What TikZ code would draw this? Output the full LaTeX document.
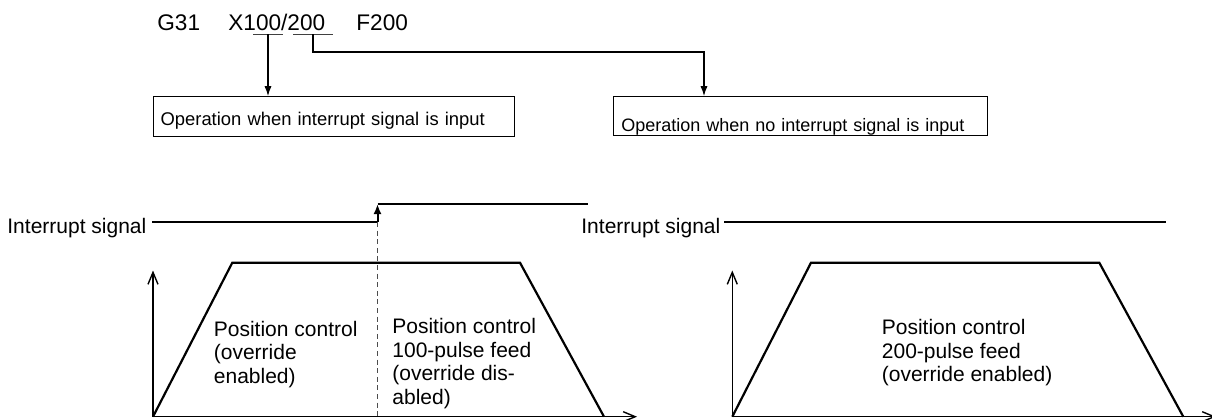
\documentclass[tikz,border=0pt]{standalone}
\usepackage{fontspec}
\setmainfont{Liberation Sans}
\usetikzlibrary{arrows.meta}
\begin{document}
\begin{tikzpicture}[x=0.5pt,y=-0.5pt,
  code/.style={font=\fontsize{11.3}{13}\selectfont, inner sep=0pt, anchor=base west},
  lbl/.style={font=\fontsize{10.5}{11.7}\selectfont, inner sep=0pt, anchor=base west, align=left},
  opbox/.style={draw, line width=0.6pt, anchor=north west, inner ysep=0pt, align=left},
  uline/.style={line width=0.5pt, black!75},
  ptr/.style={line width=0.55pt, -{Latex[length=5pt,width=3.6pt]}},
  sig/.style={line width=1pt},
  rise/.style={line width=1pt, -{Latex[length=5pt,width=4pt]}},
  curve/.style={line width=1.1pt, line join=miter},
  axis/.style={line width=0.7pt, -{Straight Barb[length=6pt,width=5pt]}},
  guide/.style={line width=0.5pt, black!70, dash pattern=on 2.5pt off 1.8pt}
]
\useasboundingbox (0,0) rectangle (1212,419);

% --- command line ---
\node[code] (g) at (157,30) {G31};
\node[code] (x) at (228,30) {X100/200};
\node[code] (f) at (356,30) {F200};
\coordinate (a1) at (253,34); \coordinate (a2) at (283,34);
\coordinate (b1) at (293,34); \coordinate (b2) at (333,34);
\draw[uline] (a1) -- (a2);
\draw[uline] (b1) -- (b2);
\coordinate (u1) at (268,34);
\coordinate (u2) at (313,34);
\coordinate (k) at (704,52);

% --- boxes ---
\node[opbox, font=\fontsize{9.2}{11}\selectfont, inner xsep=3.5pt, text width=173.5pt,
      text height=14.6pt, text depth=5.3pt]
  (box1) at (153,96) {Operation when interrupt signal is input};
\node[opbox, font=\fontsize{9.0}{11}\selectfont, inner xsep=3.85pt, text width=179.3pt,
      text height=17.35pt, text depth=2.15pt]
  (box2) at (613,96) {Operation when no interrupt signal is input};

\draw[ptr] (u1) -- (box1.north -| u1);
\draw[ptr] (u2) |- (k) -- (box2.north -| k);

% --- left chart ---
\node[lbl] (isl) at (7,233) {Interrupt signal};
\coordinate (s0) at (152,222);
\coordinate (s1) at (377.5,222);
\coordinate (s2) at (377.5,204);
\coordinate (s3) at (588,204);
\draw[sig] (s0) -- (s1);
\draw[rise] (s1) -- (s2);
\draw[sig] (s2) -- (s3);

\coordinate (o1) at (153,416.7);
\draw[axis] (o1) -- (153,270.5);
\draw[axis] (o1) -- (637,416.7);
\draw[curve] (o1) -- (232.3,262.7) -- (520,262.7) -- (604,416.7);
\draw[guide] (s1) -- (s1 |- o1);

\node[lbl] (pc1) at (213.5,383) {Position control\\(override\\enabled)};
\node[lbl] (pc2) at (392,404) {Position control\\100-pulse feed\\(override dis-\\abled)};

% --- right chart ---
\node[lbl] (isr) at (581,233) {Interrupt signal};
\coordinate (r0) at (724,222);
\coordinate (r1) at (1166,222);
\draw[sig] (r0) -- (r1);

\coordinate (o2) at (732.3,416.7);
\draw[axis] (o2) -- (732.3,270.5);
\draw[axis] (o2) -- (1216,416.7);
\draw[curve] (o2) -- (811,262.7) -- (1099.3,262.7) -- (1183.3,416.7);

\node[lbl] (pc3) at (881.5,381.7) {Position control\\200-pulse feed\\(override enabled)};
\end{tikzpicture}
\end{document}
